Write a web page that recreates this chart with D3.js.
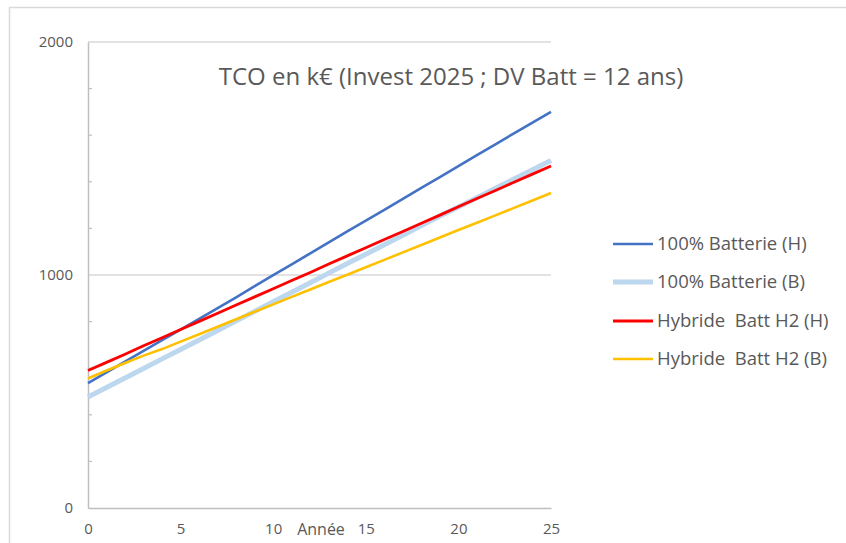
<!DOCTYPE html>
<html><head><meta charset="utf-8">
<script src="https://cdn.jsdelivr.net/npm/d3@7"></script>
<style>
body{margin:0;background:#fff;}
svg{display:block;font-family:"Open Sans","Noto Sans",sans-serif;}
text{white-space:pre;}
</style></head>
<body><svg id="c" width="846" height="543"></svg>
<script>
const years = d3.range(0, 26);
const seriesNames = ["100% Batterie (H)", "100% Batterie (B)", "Hybride  Batt H2 (H)", "Hybride  Batt H2 (B)"];
const batterieH = [536,582,628,674,720,766,812,858,904,952,999,1046,1093,1140,1187,1233,1280,1327,1374,1420,1467,1514,1561,1608,1654,1700];
const batterieB = [476,517,558,599,640,680,721,762,803,844,885,926,967,1008,1049,1089,1130,1171,1212,1253,1292,1332,1372,1412,1452,1492];
const hybrideH = [590,625,660,696,731,766,801,836,871,906,941,976,1011,1047,1082,1117,1152,1187,1222,1257,1293,1328,1363,1398,1433,1468];
const hybrideB = [556,590,622,654,682,714,746,778,810,842,874,906,938,970,1001,1033,1065,1097,1129,1161,1193,1224,1256,1288,1320,1352];
const xTicks = [0,5,10,15,20,25];
const yTicks = [0,1000,2000];
const yMinor = [200,400,600,800,1200,1400,1600,1800];
const title = "TCO en k€ (Invest 2025 ; DV Batt = 12 ans)";
const xLabel = "Année";

const colors = ["#4472C4","#BDD7EE","#FF0000","#FFC000"];
const widths = [2.6,5,2.8,2.6];
const allSeries = [batterieH, batterieB, hybrideH, hybrideB];

const svg = d3.select("#c");
const x = d3.scaleLinear().domain([0,25]).range([88,551]);
const y = d3.scaleLinear().domain([0,2000]).range([508,42]);

// outer border
svg.append("path").attr("d","M9.5,543 V7.5 H846").attr("fill","none").attr("stroke","#D9D9D9").attr("stroke-width",1.5);

// gridlines
svg.append("g").selectAll("line").data(yTicks.filter(d=>d>0)).join("line")
  .attr("x1",x(0)).attr("x2",x(25)).attr("y1",d=>y(d)).attr("y2",d=>y(d))
  .attr("stroke","#D9D9D9").attr("stroke-width",1.5);

// y axis
const yAxis = d3.axisLeft(y).tickValues(yTicks).tickSize(0).tickPadding(15).tickFormat(d3.format("d"));
const gy = svg.append("g").attr("transform",`translate(${x(0)},0)`).call(yAxis);
gy.select(".domain").attr("stroke","#BFBFBF").attr("stroke-width",1.5);
gy.selectAll("text").attr("fill","#595959").style("font-size","15px").style("font-family","'Open Sans',sans-serif");
svg.append("g").selectAll("line").data(yMinor).join("line")
  .attr("x1",x(0)).attr("x2",x(0)+4).attr("y1",d=>y(d)).attr("y2",d=>y(d))
  .attr("stroke","#BFBFBF").attr("stroke-width",1.2);

// x axis
const xAxis = d3.axisBottom(x).tickValues(xTicks).tickSize(0).tickPadding(15).tickFormat(d3.format("d"));
const gx = svg.append("g").attr("transform",`translate(0,${y(0)})`).call(xAxis);
gx.select(".domain").attr("stroke","#BFBFBF").attr("stroke-width",1.5);
gx.selectAll("text").attr("fill","#595959").style("font-size","15px").style("font-family","'Open Sans',sans-serif");

svg.append("text").attr("x",321).attr("y",535).attr("text-anchor","middle")
  .attr("fill","#595959").style("font-size","16px").text(xLabel);

// lines
const line = d3.line().x((d,i)=>x(years[i])).y(d=>y(d));
const order = [1,0,2,3];
order.forEach(k=>{
  svg.append("path").datum(allSeries[k]).attr("d",line)
    .attr("fill","none").attr("stroke",colors[k]).attr("stroke-width",widths[k])
    .attr("stroke-linejoin","round");
});

// title
svg.append("text").attr("x",451).attr("y",85).attr("text-anchor","middle")
  .attr("fill","#595959").style("font-size","24px").text(title);

// legend
const ly = [244,282,321,359];
const lg = svg.append("g");
seriesNames.forEach((n,i)=>{
  lg.append("line").attr("x1",613).attr("x2",653).attr("y1",ly[i]).attr("y2",ly[i])
    .attr("stroke",colors[i]).attr("stroke-width",widths[i]);
  lg.append("text").attr("x",657).attr("y",ly[i]).attr("dy","0.35em")
    .attr("fill","#595959").style("font-size","18.5px").text(n);
});
</script></body></html>
